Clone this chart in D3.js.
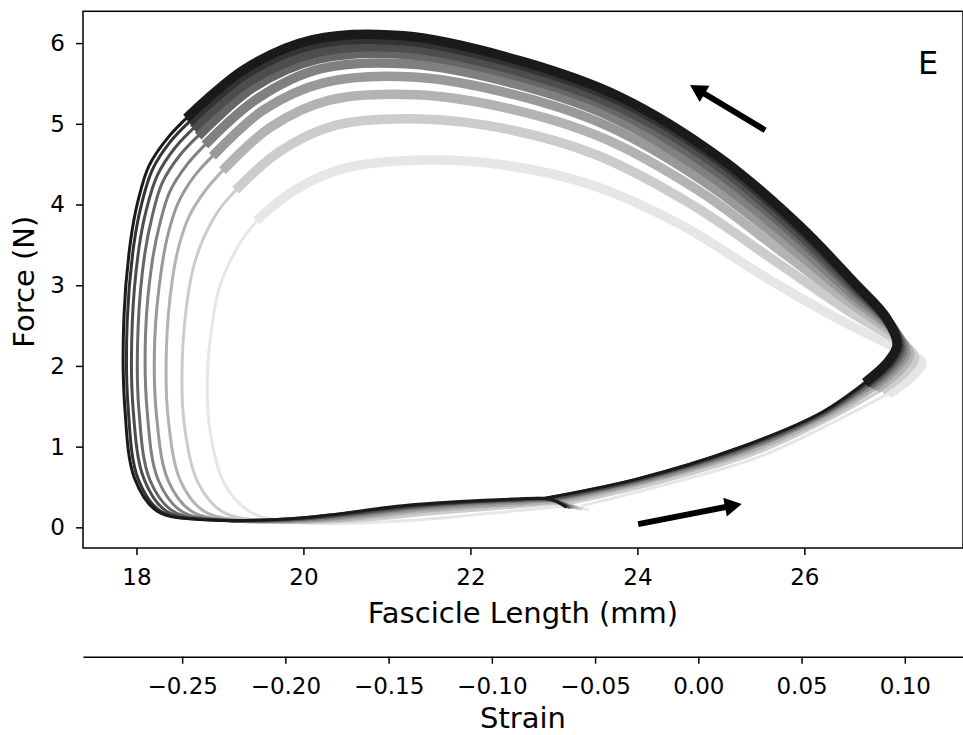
<!DOCTYPE html>
<html>
<head>
<meta charset="utf-8">
<script src="https://cdn.jsdelivr.net/npm/d3@7"></script>
<style>
  body { margin: 0; background: #fff; }
  text { font-family: "DejaVu Sans", sans-serif; fill: #000; }
</style>
</head>
<body>
<svg id="chart" width="963" height="735"></svg>
<script>
// grey level of each loop, lightest first (drawn underneath)
const shades = ['#e6e6e6', '#cccccc', '#b3b3b3', '#999999', '#808080', '#666666', '#4d4d4d', '#333333', '#1a1a1a'];

// [fascicle length (mm), force (N)], from start of lengthening round the loop
const loop1 = [[22.89,0.36],[24.0,0.60],[25.2,0.98],[26.2,1.42],[26.77,1.83],[27.0,2.05],[27.11,2.26],[26.98,2.6],[26.6,3.03],[25.95,3.73],[25.0,4.57],[23.8,5.33],[22.6,5.78],[21.2,6.09],[20.1,6.04],[19.3,5.68],[18.64,5.11],[18.37,4.82],[18.15,4.48],[18.02,4.05],[17.93,3.55],[17.85,2.6],[17.86,1.5],[17.98,0.6],[18.25,0.2],[18.9,0.09],[20.0,0.12],[21.3,0.28],[22.5,0.35],[22.95,0.35],[23.13,0.26]];
const loop2 = [[22.91,0.36],[24.01,0.60],[25.21,0.98],[26.21,1.42],[26.78,1.82],[27.01,2.04],[27.12,2.25],[26.99,2.58],[26.60,3.01],[25.94,3.70],[24.98,4.54],[23.78,5.29],[22.59,5.73],[21.21,6.03],[20.12,5.98],[19.32,5.62],[18.67,5.06],[18.40,4.77],[18.19,4.43],[18.06,4.00],[17.97,3.51],[17.89,2.57],[17.90,1.49],[18.02,0.60],[18.29,0.20],[18.94,0.09],[20.02,0.12],[21.32,0.27],[22.51,0.34],[22.96,0.35],[23.14,0.26]];
const loop3 = [[22.94,0.35],[24.03,0.59],[25.23,0.97],[26.22,1.41],[26.80,1.82],[27.03,2.03],[27.14,2.24],[27.00,2.56],[26.59,2.98],[25.91,3.66],[24.95,4.49],[23.76,5.22],[22.58,5.65],[21.23,5.94],[20.14,5.88],[19.36,5.53],[18.72,4.98],[18.46,4.70],[18.25,4.36],[18.12,3.94],[18.03,3.46],[17.95,2.53],[17.96,1.47],[18.09,0.60],[18.36,0.20],[18.99,0.09],[20.06,0.11],[21.34,0.26],[22.52,0.34],[22.98,0.34],[23.16,0.26]];
const loop4 = [[22.97,0.34],[24.05,0.59],[25.24,0.96],[26.23,1.40],[26.82,1.80],[27.05,2.02],[27.16,2.22],[27.02,2.53],[26.58,2.95],[25.89,3.62],[24.92,4.43],[23.73,5.17],[22.57,5.59],[21.25,5.86],[20.17,5.80],[19.40,5.45],[18.78,4.89],[18.52,4.61],[18.31,4.27],[18.19,3.86],[18.10,3.39],[18.02,2.48],[18.03,1.45],[18.16,0.59],[18.44,0.20],[19.05,0.09],[20.10,0.11],[21.37,0.25],[22.53,0.33],[22.99,0.33],[23.18,0.25]];
const loop5 = [[23.01,0.34],[24.08,0.58],[25.27,0.95],[26.25,1.40],[26.84,1.79],[27.08,2.01],[27.19,2.20],[27.04,2.49],[26.57,2.90],[25.85,3.56],[24.87,4.36],[23.70,5.08],[22.55,5.49],[21.28,5.74],[20.20,5.68],[19.46,5.32],[18.86,4.78],[18.61,4.50],[18.40,4.16],[18.28,3.76],[18.19,3.30],[18.11,2.42],[18.13,1.42],[18.26,0.59],[18.54,0.20],[19.13,0.08],[20.16,0.10],[21.40,0.24],[22.55,0.32],[23.02,0.33],[23.20,0.25]];
const loop6 = [[23.06,0.33],[24.11,0.57],[25.29,0.94],[26.27,1.39],[26.87,1.77],[27.11,1.99],[27.22,2.18],[27.06,2.44],[26.56,2.85],[25.81,3.49],[24.82,4.27],[23.65,4.97],[22.53,5.36],[21.31,5.58],[20.25,5.51],[19.52,5.17],[18.95,4.64],[18.70,4.36],[18.50,4.02],[18.38,3.64],[18.30,3.20],[18.22,2.34],[18.24,1.39],[18.38,0.58],[18.66,0.20],[19.23,0.08],[20.22,0.09],[21.45,0.22],[22.57,0.30],[23.04,0.32],[23.23,0.25]];
const loop7 = [[23.12,0.31],[24.15,0.56],[25.33,0.92],[26.30,1.37],[26.91,1.75],[27.15,1.96],[27.26,2.15],[27.09,2.38],[26.55,2.78],[25.76,3.39],[24.75,4.16],[23.60,4.82],[22.50,5.18],[21.35,5.36],[20.30,5.29],[19.61,4.96],[19.07,4.46],[18.83,4.18],[18.63,3.85],[18.51,3.49],[18.43,3.07],[18.36,2.24],[18.38,1.35],[18.53,0.57],[18.81,0.20],[19.36,0.08],[20.31,0.08],[21.50,0.20],[22.60,0.28],[23.08,0.30],[23.27,0.24]];
const loop8 = [[23.21,0.30],[24.21,0.54],[25.38,0.90],[26.34,1.36],[26.97,1.73],[27.21,1.93],[27.32,2.11],[27.13,2.30],[26.53,2.68],[25.69,3.27],[24.65,4.00],[23.52,4.61],[22.46,4.93],[21.41,5.06],[20.38,4.98],[19.72,4.66],[19.23,4.22],[19.00,3.95],[18.82,3.62],[18.70,3.29],[18.62,2.89],[18.55,2.11],[18.57,1.30],[18.73,0.57],[19.02,0.20],[19.53,0.08],[20.42,0.07],[21.58,0.17],[22.64,0.26],[23.13,0.29],[23.32,0.23]];
const loop9 = [[23.35,0.27],[24.3,0.52],[25.45,0.87],[26.4,1.33],[27.05,1.68],[27.3,1.88],[27.41,2.04],[27.2,2.17],[26.5,2.53],[25.58,3.07],[24.5,3.76],[23.4,4.26],[22.4,4.49],[21.5,4.55],[20.5,4.45],[19.9,4.18],[19.48,3.84],[19.27,3.57],[19.1,3.25],[18.99,2.96],[18.92,2.6],[18.85,1.9],[18.88,1.21],[19.05,0.55],[19.35,0.2],[19.8,0.07],[20.6,0.05],[21.7,0.12],[22.7,0.22],[23.2,0.26],[23.4,0.22]];

// same order as shades
const loops = [loop9, loop8, loop7, loop6, loop5, loop4, loop3, loop2, loop1];

// stimulation on / off (thick part of each loop)
const stimOn = 4;
const stimOff = 16;

const xTicks = [18, 20, 22, 24, 26];
const yTicks = [0, 1, 2, 3, 4, 5, 6];
const strainTicks = [-0.25, -0.20, -0.15, -0.10, -0.05, 0.00, 0.05, 0.10];
const restLength = 24.73;

// direction arrows, [length, force]
const arrowFrom = [[25.53, 4.92], [24.01, 0.04]];
const arrowTo = [[24.63, 5.48], [25.25, 0.29]];

const plotLeft = 83;
const plotRight = 963;
const plotTop = 11.3;
const plotBottom = 548;
const strainY = 656.7;
const tickFont = 23;
const labelFont = 29;

const xDomain = [17.36, 27.90];

const x = d3.scaleLinear().domain(xDomain).range([plotLeft, plotRight]);
const y = d3.scaleLinear().domain([-0.256, 6.394]).range([plotBottom, plotTop]);
const strain = d3.scaleLinear()
                 .domain(xDomain.map(d => d / restLength - 1))
                 .range([plotLeft, plotRight]);

const svg = d3.select('#chart');

const line = d3.line()
               .x(d => x(d[0]))
               .y(d => y(d[1]))
               .curve(d3.curveCatmullRom.alpha(0.5));

const loopGroup = svg.append('g');

loops.forEach((pts, i) => {
  const g = loopGroup.append('g')
                     .attr('fill', 'none')
                     .attr('stroke', shades[i])
                     .attr('stroke-linejoin', 'round');

  g.append('path')
   .attr('d', line(pts.slice(0, stimOn + 1)))
   .attr('stroke-width', 3)
   .attr('stroke-linecap', 'square');

  g.append('path')
   .attr('d', line(pts.slice(stimOff)))
   .attr('stroke-width', 3)
   .attr('stroke-linecap', 'square');

  g.append('path')
   .attr('d', line(pts.slice(stimOn, stimOff + 1)))
   .attr('stroke-width', 9.5)
   .attr('stroke-linecap', 'square');
});

// arrows
arrowFrom.forEach((from, i) => {
  const x0 = x(from[0]);
  const y0 = y(from[1]);
  const x1 = x(arrowTo[i][0]);
  const y1 = y(arrowTo[i][1]);
  const len = Math.hypot(x1 - x0, y1 - y0);
  const ux = (x1 - x0) / len;
  const uy = (y1 - y0) / len;
  const headLen = 17;
  const headHalf = 9.5;
  const bx = x1 - ux * headLen;
  const by = y1 - uy * headLen;

  svg.append('line')
     .attr('x1', x0)
     .attr('y1', y0)
     .attr('x2', bx + ux * 2)
     .attr('y2', by + uy * 2)
     .attr('stroke', '#000')
     .attr('stroke-width', 6);

  svg.append('polygon')
     .attr('points', [
       [x1, y1],
       [bx - uy * headHalf, by + ux * headHalf],
       [bx + uy * headHalf, by - ux * headHalf]
     ].join(' '))
     .attr('fill', '#000');
});

// axes
const xAxis = svg.append('g')
                 .attr('transform', `translate(0,${plotBottom})`)
                 .call(d3.axisBottom(x)
                         .tickValues(xTicks)
                         .tickFormat(d3.format('d'))
                         .tickSize(7)
                         .tickSizeOuter(0)
                         .tickPadding(14));

const yAxis = svg.append('g')
                 .attr('transform', `translate(${plotLeft},0)`)
                 .call(d3.axisLeft(y)
                         .tickValues(yTicks)
                         .tickFormat(d3.format('d'))
                         .tickSize(7)
                         .tickSizeOuter(0)
                         .tickPadding(11));

const strainAxis = svg.append('g')
                      .attr('transform', `translate(0,${strainY})`)
                      .call(d3.axisBottom(strain)
                              .tickValues(strainTicks)
                              .tickFormat(d3.format('.2f'))
                              .tickSize(7)
                              .tickSizeOuter(0)
                              .tickPadding(14));

xAxis.select('.domain').remove();
yAxis.select('.domain').remove();

[xAxis, yAxis, strainAxis].forEach(a => {
  a.attr('font-size', tickFont)
   .attr('font-family', '"DejaVu Sans", sans-serif');
  a.selectAll('line').attr('stroke', '#000').attr('stroke-width', 1.5);
  a.selectAll('path').attr('stroke', '#000').attr('stroke-width', 1.5);
  a.selectAll('text').attr('fill', '#000');
});

// frame
svg.append('rect')
   .attr('x', plotLeft)
   .attr('y', plotTop)
   .attr('width', plotRight - plotLeft)
   .attr('height', plotBottom - plotTop)
   .attr('fill', 'none')
   .attr('stroke', '#000')
   .attr('stroke-width', 1.5);

// labels
svg.append('text')
   .attr('x', (plotLeft + plotRight) / 2)
   .attr('y', 623)
   .attr('text-anchor', 'middle')
   .attr('font-size', labelFont)
   .text('Fascicle Length (mm)');

svg.append('text')
   .attr('x', (plotLeft + plotRight) / 2)
   .attr('y', 728)
   .attr('text-anchor', 'middle')
   .attr('font-size', labelFont)
   .text('Strain');

svg.append('text')
   .attr('transform', `translate(33.5,${(plotTop + plotBottom) / 2 + 2}) rotate(-90)`)
   .attr('text-anchor', 'middle')
   .attr('font-size', labelFont)
   .text('Force (N)');

svg.append('text')
   .attr('x', 918)
   .attr('y', 73.5)
   .attr('font-size', 32)
   .text('E');
</script>
</body>
</html>
